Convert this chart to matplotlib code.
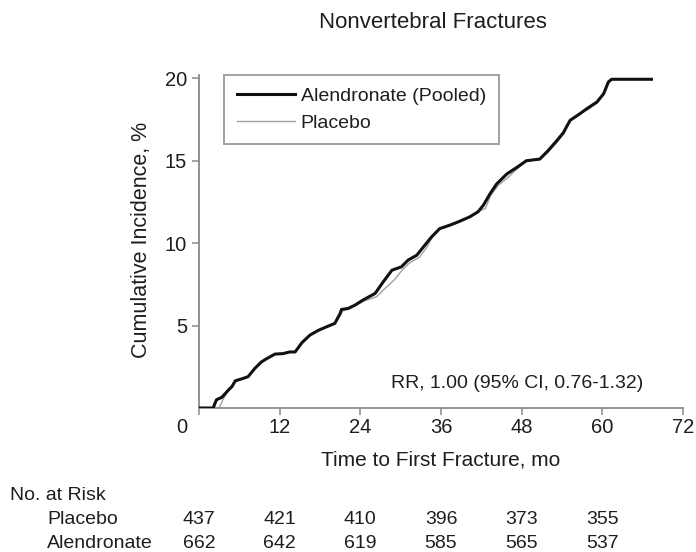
import matplotlib
matplotlib.use("Agg")
import matplotlib.pyplot as plt
import matplotlib.transforms as mtransforms

plt.rcParams['font.family'] = ['Liberation Sans', 'DejaVu Sans']

# ---- data ----
alen_t = [0, 2.1, 2.6, 3.4, 4.4, 4.9, 5.4, 6.6, 7.3, 8.3, 9.3, 10.1, 11.3, 12.5, 13.5, 14.3,
          15.3, 16.5, 17.7, 19.0, 20.2, 21.0, 21.2, 22.2, 23.2, 24.4, 26.2, 27.4, 28.7, 30.1,
          31.1, 32.4, 33.6, 34.6, 35.8, 37.3, 38.8, 40.3, 41.5, 42.3, 43.3, 44.3, 45.8, 47.3,
          48.7, 50.7, 51.9, 53.2, 54.2, 55.2, 56.7, 57.7, 59.2, 60.2, 60.9, 61.4, 67.3]
alen_v = [0, 0, 0.5, 0.65, 1.1, 1.3, 1.65, 1.8, 1.9, 2.4, 2.8, 3.0, 3.27, 3.3, 3.4, 3.4,
          3.96, 4.42, 4.7, 4.93, 5.13, 5.74, 5.98, 6.04, 6.24, 6.55, 6.95, 7.65, 8.36, 8.56,
          8.97, 9.27, 9.88, 10.38, 10.88, 11.09, 11.33, 11.6, 11.9, 12.3, 13.0, 13.6, 14.2, 14.6,
          15.0, 15.1, 15.6, 16.2, 16.7, 17.45, 17.86, 18.16, 18.56, 19.07, 19.78, 19.94, 19.94]

plac_t = [0, 2.3, 3.0, 3.6, 4.4, 4.9, 5.4, 6.6, 7.3, 8.3, 9.3, 10.1, 11.3, 12.5, 13.5, 14.3,
          15.3, 16.5, 17.7, 19.0, 20.2, 21.0, 21.4, 22.2, 23.2, 24.6, 26.4, 27.8, 29.0, 30.3,
          31.3, 32.8, 33.8, 34.6, 35.8, 37.3, 38.8, 40.3, 41.5, 42.6, 43.4, 44.5, 46.0, 47.3,
          48.7, 50.7, 51.9, 53.2, 54.2, 55.2, 56.9, 57.9, 59.2, 60.2, 60.9, 61.4, 67.3]
plac_v = [0, 0, 0.0, 0.55, 1.05, 1.3, 1.6, 1.8, 1.9, 2.4, 2.8, 3.0, 3.25, 3.3, 3.4, 3.4,
          3.9, 4.4, 4.7, 4.9, 5.1, 5.6, 5.9, 6.0, 6.2, 6.5, 6.75, 7.3, 7.75, 8.4,
          8.8, 9.15, 9.7, 10.3, 10.85, 11.05, 11.3, 11.6, 11.9, 12.1, 12.9, 13.5, 14.0, 14.5,
          15.0, 15.1, 15.5, 16.1, 16.6, 17.4, 17.95, 18.1, 18.5, 19.0, 19.7, 19.94, 19.94]

x_ticks = [0, 12, 24, 36, 48, 60, 72]
y_ticks = [5, 10, 15, 20]
risk_times = [0, 12, 24, 36, 48, 60]
risk_placebo = [437, 421, 410, 396, 373, 355]
risk_alendronate = [662, 642, 619, 585, 565, 537]

title = "Nonvertebral Fractures"
xlabel = "Time to First Fracture, mo"
ylabel = "Cumulative Incidence, %"
rr_text = "RR, 1.00 (95% CI, 0.76-1.32)"

txt = '#1e1e1e'
spine_c = '#8a8a8a'
W, H = 696, 552

fig = plt.figure(figsize=(6.96, 5.52), dpi=100)
ax = fig.add_axes([199/W, 1-408/H, (683-199)/W, (408-75)/H])

ax.plot(plac_t, plac_v, color='#a0a0a0', lw=1.0, label='Placebo', zorder=2)
ax.plot(alen_t, alen_v, color='#111111', lw=2.2, label='Alendronate (Pooled)', zorder=3)

ax.set_xlim(0, 72)
ax.set_ylim(0, 20.2)
ax.set_xticks(x_ticks)
ax.set_yticks(y_ticks)
ax.set_xticklabels([str(v) for v in x_ticks])
ax.set_yticklabels([str(v) for v in y_ticks])
for s in ['top', 'right']:
    ax.spines[s].set_visible(False)
for s in ['left', 'bottom']:
    ax.spines[s].set_color(spine_c)
    ax.spines[s].set_linewidth(1.3)
ax.tick_params(axis='both', direction='out', length=5, width=1.1, color=spine_c,
               labelsize=14.5, labelcolor=txt)
ax.tick_params(axis='x', pad=2.5)
ax.tick_params(axis='y', pad=3.5)
# shift the "0" label left as in reference
lab0 = ax.get_xticklabels()[0]
lab0.set_transform(lab0.get_transform() + mtransforms.ScaledTranslation(-17/100, 0, fig.dpi_scale_trans))

ax.set_xlabel(xlabel, fontsize=15, color=txt)
ax.xaxis.set_label_coords(0.5, -(460-408)/333)
ax.xaxis.label.set_va('center')
ax.set_ylabel(ylabel, fontsize=15.5, color=txt)
ax.yaxis.set_label_coords((141-199)/484, (408-240)/333)
ax.yaxis.label.set_va('center')
fig.text(433/W, 1-22/H, title, ha='center', va='center', fontsize=16, color=txt)

leg = fig.legend(handles=ax.get_lines()[::-1], loc='upper left', bbox_to_anchor=(224/W, 1-75/H),
                 bbox_transform=fig.transFigure, borderaxespad=0,
                 fontsize=14.0, frameon=True, fancybox=False, edgecolor='#8a8a8a',
                 handlelength=3.0, handletextpad=0.3, borderpad=0.65, labelspacing=0.45)
leg.get_frame().set_linewidth(1.4)
for t in leg.get_texts():
    t.set_color(txt)

fig.text(643/W, 1-383/H, rr_text, ha='right', va='center', fontsize=14, color=txt)

# number at risk table
fs_tab = 14
fig.text(10/W, 1-496/H, "No. at Risk", ha='left', va='center', fontsize=fs_tab, color=txt)
fig.text(47/W, 1-519/H, "Placebo", ha='left', va='center', fontsize=fs_tab, color=txt)
fig.text(47/W, 1-543/H, "Alendronate", ha='left', va='center', fontsize=fs_tab, color=txt)
blend = mtransforms.blended_transform_factory(ax.transData, fig.transFigure)
for t, p, a in zip(risk_times, risk_placebo, risk_alendronate):
    ax.text(t, 1-519/H, str(p), transform=blend, ha='center', va='center', fontsize=fs_tab, color=txt)
    ax.text(t, 1-543/H, str(a), transform=blend, ha='center', va='center', fontsize=fs_tab, color=txt)

fig.savefig('out.png', dpi=100)
